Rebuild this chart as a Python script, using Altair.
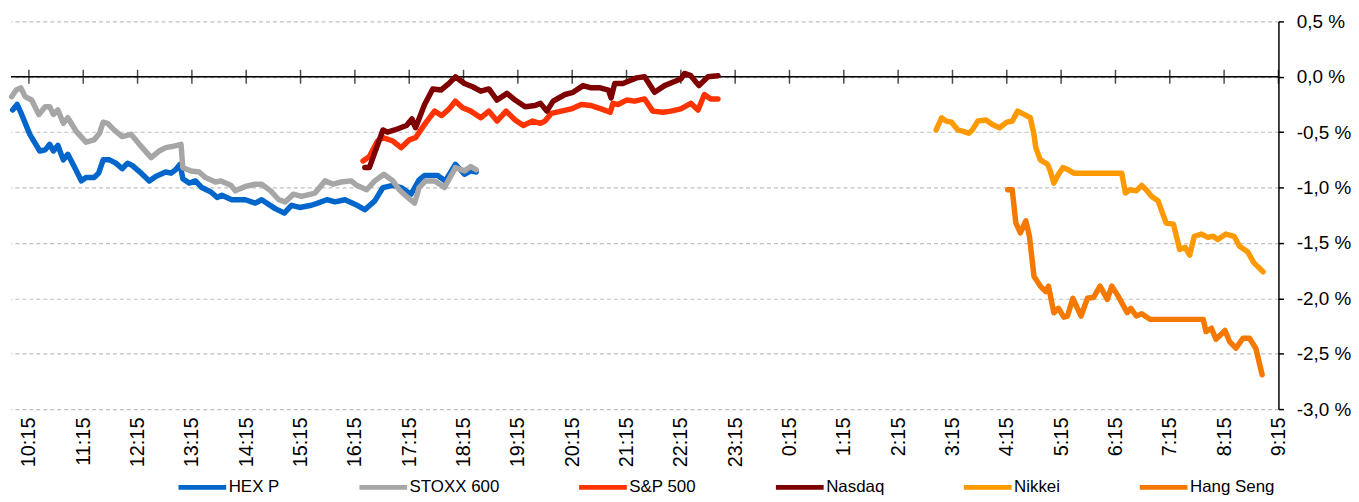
import altair as alt
import pandas as pd

FONT = "Liberation Sans"

series_names = ["HEX P", "STOXX 600", "S&P 500", "Nasdaq", "Nikkei", "Hang Seng"]
series_colors = ["#0066CC", "#A6A6A6", "#FF3300", "#7F0000", "#FF9900", "#F57900"]

hex_t = ["9:57", "10:02", "10:07", "10:16", "10:27", "10:33", "10:38", "10:42", "10:47", "10:53",
         "10:58", "11:05", "11:13", "11:18", "11:27", "11:32", "11:37", "11:44", "11:51", "11:58",
         "12:04", "12:09", "12:19", "12:28", "12:35", "12:46", "12:52", "12:57", "13:02", "13:05",
         "13:12", "13:19", "13:26", "13:36", "13:43", "13:48", "13:59", "14:14", "14:25", "14:32",
         "14:47", "14:57", "15:05", "15:14", "15:27", "15:34", "15:44", "15:53", "16:04", "16:15",
         "16:26", "16:37", "16:46", "16:57", "17:06", "17:17", "17:26", "17:32", "17:46", "17:55",
         "18:06", "18:16", "18:23", "18:29"]
hex_v = [-0.30, -0.25, -0.34, -0.52, -0.67, -0.66, -0.61, -0.67, -0.62, -0.75,
         -0.70, -0.81, -0.94, -0.91, -0.91, -0.87, -0.75, -0.75, -0.78, -0.83,
         -0.78, -0.80, -0.87, -0.94, -0.90, -0.86, -0.87, -0.84, -0.79, -0.92,
         -0.96, -0.94, -1.00, -1.04, -1.09, -1.07, -1.11, -1.11, -1.14, -1.11,
         -1.19, -1.23, -1.16, -1.18, -1.16, -1.14, -1.11, -1.13, -1.11, -1.15,
         -1.20, -1.12, -1.00, -0.98, -1.00, -1.06, -0.93, -0.89, -0.89, -0.94,
         -0.79, -0.88, -0.85, -0.86]

stoxx_t = ["9:56", "10:01", "10:06", "10:11", "10:18", "10:26", "10:33", "10:38", "10:42", "10:47",
           "10:53", "10:58", "11:07", "11:18", "11:27", "11:33", "11:37", "11:42", "11:49", "11:58",
           "12:08", "12:17", "12:30", "12:39", "12:46", "12:53", "13:03", "13:05", "13:14", "13:23",
           "13:30", "13:41", "13:47", "13:58", "14:03", "14:14", "14:25", "14:32", "14:42", "14:51",
           "14:58", "15:07", "15:16", "15:31", "15:42", "15:51", "16:00", "16:11", "16:17", "16:28",
           "16:37", "16:47", "16:57", "17:04", "17:12", "17:21", "17:26", "17:33", "17:43", "17:54",
           "18:06", "18:16", "18:23", "18:29"]
stoxx_v = [-0.18, -0.12, -0.10, -0.18, -0.21, -0.34, -0.27, -0.27, -0.34, -0.30,
           -0.42, -0.37, -0.49, -0.59, -0.57, -0.51, -0.41, -0.42, -0.48, -0.54,
           -0.52, -0.61, -0.73, -0.67, -0.64, -0.63, -0.61, -0.82, -0.85, -0.86,
           -0.91, -0.95, -0.94, -0.98, -1.03, -0.99, -0.97, -0.97, -1.03, -1.11,
           -1.13, -1.06, -1.08, -1.05, -0.94, -0.97, -0.95, -0.94, -0.98, -1.02,
           -0.94, -0.88, -0.94, -1.02, -1.08, -1.14, -1.00, -0.94, -0.94, -1.00,
           -0.82, -0.85, -0.81, -0.84]

sp_t = ["16:24", "16:31", "16:40", "16:46", "16:57", "17:06", "17:15", "17:22", "17:32", "17:43",
        "17:51", "17:59", "18:06", "18:14", "18:23", "18:34", "18:43", "18:52", "19:02", "19:12",
        "19:21", "19:31", "19:40", "19:45", "19:52", "20:03", "20:14", "20:25", "20:36", "20:47",
        "20:57", "21:00", "21:06", "21:15", "21:24", "21:35", "21:44", "21:55", "22:04", "22:15",
        "22:26", "22:34", "22:41", "22:48", "22:56"]
sp_v = [-0.76, -0.72, -0.58, -0.55, -0.58, -0.64, -0.57, -0.55, -0.43, -0.31,
        -0.35, -0.29, -0.22, -0.28, -0.31, -0.37, -0.31, -0.40, -0.31, -0.39,
        -0.44, -0.40, -0.42, -0.40, -0.33, -0.31, -0.29, -0.25, -0.26, -0.29,
        -0.32, -0.24, -0.25, -0.21, -0.22, -0.20, -0.31, -0.32, -0.31, -0.29,
        -0.24, -0.30, -0.16, -0.20, -0.20]

nasdaq_t = ["16:26", "16:31", "16:39", "16:46", "16:51", "16:59", "17:12", "17:18", "17:22", "17:32",
            "17:41", "17:50", "17:59", "18:06", "18:16", "18:25", "18:34", "18:43", "18:52", "19:03",
            "19:12", "19:23", "19:34", "19:40", "19:47", "19:54", "20:07", "20:16", "20:27", "20:36",
            "20:46", "20:55", "20:58", "21:02", "21:11", "21:17", "21:26", "21:35", "21:46", "21:57",
            "22:06", "22:15", "22:19", "22:26", "22:35", "22:45", "22:56"]
nasdaq_v = [-0.82, -0.82, -0.64, -0.48, -0.50, -0.48, -0.44, -0.38, -0.46, -0.25,
            -0.11, -0.12, -0.06, 0.00, -0.06, -0.09, -0.13, -0.11, -0.21, -0.15,
            -0.21, -0.27, -0.26, -0.24, -0.31, -0.22, -0.16, -0.14, -0.08, -0.10,
            -0.10, -0.12, -0.19, -0.06, -0.06, -0.04, -0.01, 0.00, -0.14, -0.08,
            -0.05, -0.02, 0.03, 0.01, -0.08, 0.00, 0.01]

nikkei_t = ["2:57", "3:03", "3:08", "3:14", "3:21", "3:26", "3:33", "3:37", "3:43", "3:52",
            "3:59", "4:07", "4:15", "4:21", "4:27", "4:34", "4:41", "4:45", "4:47", "4:52",
            "5:00", "5:03", "5:07", "5:12", "5:17", "5:23", "5:29", "6:22", "6:26", "6:31",
            "6:38", "6:44", "6:49", "6:55", "7:02", "7:11", "7:19", "7:26", "7:32", "7:37",
            "7:42", "7:50", "7:57", "8:03", "8:08", "8:17", "8:26", "8:32", "8:41", "8:48",
            "8:58"]
nikkei_v = [-0.48, -0.37, -0.40, -0.41, -0.48, -0.49, -0.51, -0.48, -0.40, -0.39,
            -0.43, -0.46, -0.41, -0.40, -0.31, -0.34, -0.37, -0.52, -0.64, -0.75,
            -0.79, -0.85, -0.96, -0.88, -0.82, -0.84, -0.87, -0.87, -1.05, -1.02,
            -1.03, -0.98, -1.02, -1.08, -1.12, -1.32, -1.33, -1.56, -1.54, -1.61,
            -1.44, -1.42, -1.45, -1.44, -1.47, -1.42, -1.44, -1.53, -1.58, -1.68,
            -1.76]

hs_t = ["4:16", "4:21", "4:25", "4:30", "4:36", "4:40", "4:45", "4:52", "4:58", "5:01",
        "5:07", "5:12", "5:18", "5:22", "5:28", "5:33", "5:37", "5:44", "5:51", "5:58",
        "6:06", "6:11", "6:18", "6:28", "6:32", "6:38", "6:44", "6:53", "7:52", "7:55",
        "8:01", "8:06", "8:16", "8:21", "8:28", "8:36", "8:43", "8:50", "8:57"]
hs_v = [-1.02, -1.02, -1.32, -1.41, -1.30, -1.44, -1.80, -1.89, -1.94, -1.89,
        -2.13, -2.09, -2.17, -2.16, -2.00, -2.09, -2.16, -2.00, -1.99, -1.89,
        -2.01, -1.89, -1.98, -2.13, -2.09, -2.16, -2.14, -2.19, -2.19, -2.30,
        -2.27, -2.37, -2.29, -2.39, -2.45, -2.36, -2.36, -2.45, -2.69]

tick_labels = ["10:15", "11:15", "12:15", "13:15", "14:15", "15:15", "16:15", "17:15", "18:15",
               "19:15", "20:15", "21:15", "22:15", "23:15", "0:15", "1:15", "2:15", "3:15",
               "4:15", "5:15", "6:15", "7:15", "8:15", "9:15"]
y_ticks = [-3.0, -2.5, -2.0, -1.5, -1.0, -0.5, 0.0, 0.5]


def to_hours(t):
    h, m = (int(p) for p in t.split(":"))
    x = h + m / 60.0
    if x < 9.5:
        x += 24
    return x


rows = []
for name, ts, vs in zip(series_names,
                        [hex_t, stoxx_t, sp_t, nasdaq_t, nikkei_t, hs_t],
                        [hex_v, stoxx_v, sp_v, nasdaq_v, nikkei_v, hs_v]):
    for i, (t, v) in enumerate(zip(ts, vs)):
        rows.append({"series": name, "t": to_hours(t), "v": v, "i": i})
df = pd.DataFrame(rows)

tick_hours = [to_hours(s) for s in tick_labels]
ticks_df = pd.DataFrame({"t": tick_hours, "v": [0.0] * len(tick_hours)})
zero_df = pd.DataFrame({"v": [0.0]})

xscale = alt.Scale(domain=[9.92, 33.25], nice=False, zero=False)
yscale = alt.Scale(domain=[-3.0, 0.5], nice=False, zero=False)

y_label_expr = "(datum.value < 0 ? '-' : '') + replace(format(abs(datum.value), '.1f'), '.', ',') + ' %'"

X = alt.X("t:Q", scale=xscale,
          axis=alt.Axis(values=tick_hours, labelExpr="(floor(datum.value) % 24) + ':15'",
                        labelAngle=270, ticks=False, domain=False, grid=False, title=None,
                        labelFont=FONT, labelFontSize=20, labelColor="black", labelPadding=8,
                        labelOverlap=False))
Y = alt.Y("v:Q", scale=yscale,
          axis=alt.Axis(orient="right", values=y_ticks, labelExpr=y_label_expr, title=None,
                        grid=True, gridDash=[4, 3], gridColor="#BFBFBF", gridWidth=1.2,
                        domainColor="black", domainWidth=1.5, tickColor="black", tickWidth=1.5,
                        tickSize=5, labelPadding=13, labelFont=FONT, labelFontSize=19,
                        labelColor="black"))

lines = alt.Chart(df).mark_line(strokeWidth=5.5, strokeCap="round", strokeJoin="round").encode(
    x=X,
    y=Y,
    color=alt.Color("series:N", sort=series_names,
                    scale=alt.Scale(domain=series_names, range=series_colors),
                    legend=alt.Legend(title=None, orient="none", legendX=166, legendY=442,
                                      direction="horizontal", columns=6, columnPadding=69,
                                      symbolType="stroke", symbolSize=2304, symbolStrokeWidth=5,
                                      labelFont=FONT, labelFontSize=17, labelColor="black",
                                      labelOffset=0)),
    order=alt.Order("i:Q"),
)

zero_line = alt.Chart(zero_df).mark_rule(color="black", strokeWidth=1.5).encode(y=Y)

zero_ticks = alt.Chart(ticks_df).mark_tick(orient="vertical", size=14, thickness=1.5,
                                            color="black").encode(x=X, y=Y)

chart = alt.layer(zero_line, zero_ticks, lines).properties(
    width=1275, height=390,
    autosize=alt.AutoSizeParams(type="none"),
    padding={"left": 3, "top": 12, "right": 73, "bottom": 92},
    background="white",
).configure_view(stroke=None)

chart.save("out.html", embed_options={"renderer": "svg", "actions": False})
